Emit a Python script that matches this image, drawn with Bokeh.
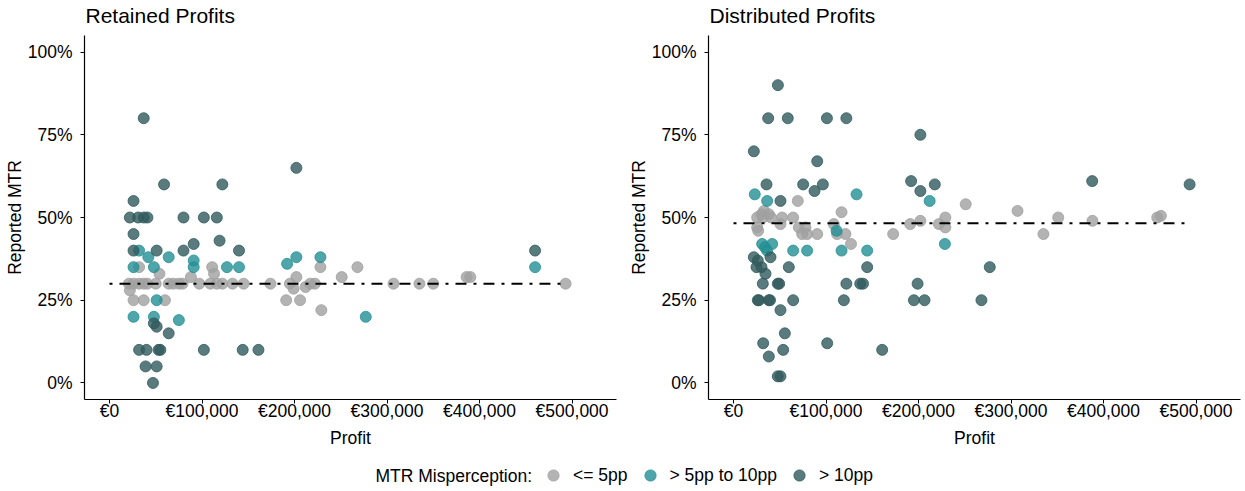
from bokeh.plotting import figure
from bokeh.models import Range1d, FixedTicker, NumeralTickFormatter, Legend, LegendItem, Label
from bokeh.layouts import column, row
from bokeh.embed import file_html
from bokeh.resources import INLINE

FONT = "Liberation Sans"

panel_titles = ["Retained Profits", "Distributed Profits"]
groups = ["<= 5pp", "> 5pp to 10pp", "> 10pp"]
group_colors = ["#a0a0a0", "#239095", "#315a5c"]

# ---------------- Retained Profits (profit in EUR, reported MTR as share) ----------------
ret_low_profit = [32000, 54000, 111000, 113000, 88000,
                  21000, 26000, 32000, 37000, 41000, 50000, 64000, 69000, 75000, 79000, 97000,
                  109000, 116000, 122000, 133000, 145000, 174000,
                  22000, 26000, 37000, 60000,
                  228000, 268000, 251000, 202000, 195000, 199000, 212000, 217000, 222000,
                  307000, 335000, 350000, 386000, 390000, 493000, 191000, 206000, 229000]
ret_low_mtr = [0.35, 0.33, 0.35, 0.33, 0.32,
               0.30, 0.30, 0.30, 0.30, 0.30, 0.30, 0.30, 0.30, 0.30, 0.30, 0.30,
               0.30, 0.30, 0.30, 0.30, 0.30, 0.30,
               0.28, 0.25, 0.25, 0.25,
               0.35, 0.35, 0.32, 0.32, 0.30, 0.285, 0.29, 0.30, 0.30,
               0.30, 0.30, 0.30, 0.32, 0.32, 0.30, 0.25, 0.25, 0.22]

ret_mid_profit = [32000, 42000, 64000, 26000, 48000, 91000, 91000, 127000, 140000, 51000,
                  26000, 48000, 75000, 192000, 202000, 228000, 277000, 460000]
ret_mid_mtr = [0.40, 0.38, 0.38, 0.35, 0.35, 0.37, 0.35, 0.35, 0.35, 0.25,
               0.20, 0.20, 0.19, 0.36, 0.38, 0.38, 0.20, 0.35]

ret_high_profit = [37000, 59000, 26000, 122000, 22000, 31000, 37000, 41000, 80000, 102000, 116000,
                   26000, 91000, 119000, 26000, 51000, 80000, 140000, 48000, 51000, 64000,
                   32000, 40000, 53000, 55000, 102000, 144000, 161000, 39000, 51000, 47000,
                   202000, 460000]
ret_high_mtr = [0.80, 0.60, 0.55, 0.60, 0.50, 0.50, 0.50, 0.50, 0.50, 0.50, 0.50,
                0.45, 0.42, 0.43, 0.40, 0.40, 0.40, 0.40, 0.18, 0.17, 0.15,
                0.10, 0.10, 0.10, 0.10, 0.10, 0.10, 0.10, 0.05, 0.05, 0.00,
                0.65, 0.40]

ret_avg_mtr = 0.30

# ---------------- Distributed Profits ----------------
dis_low_profit = [69500, 25600, 30300, 33000, 38200, 40700, 31700, 25600, 26700, 52600, 64500,
                  50800, 70600, 77800, 74200, 79600, 90500, 108500, 116800, 112000, 121000,
                  127000, 172600, 191000, 202000, 222000, 229000, 229000, 251000, 307000,
                  335000, 351000, 388000, 458000, 462000]
dis_low_mtr = [0.55, 0.50, 0.51, 0.52, 0.51, 0.50, 0.50, 0.47, 0.46, 0.50, 0.50,
               0.48, 0.47, 0.47, 0.45, 0.45, 0.45, 0.48, 0.516, 0.45, 0.45,
               0.42, 0.45, 0.48, 0.49, 0.48, 0.50, 0.47, 0.54, 0.52,
               0.45, 0.50, 0.49, 0.50, 0.505]

dis_mid_profit = [23000, 36400, 133000, 31000, 41800, 36400, 34000, 64500, 79600, 111400,
                  116800, 144500, 212000, 228500]
dis_mid_mtr = [0.57, 0.55, 0.57, 0.42, 0.42, 0.40, 0.41, 0.40, 0.40, 0.46,
               0.40, 0.40, 0.55, 0.42]

dis_high_profit = [48000, 37500, 58700, 101000, 122000, 22000, 90500, 35700, 75300, 87600, 96600,
                   50800, 40000, 22000, 24900, 30300, 26300, 34600, 59800, 144500,
                   31700, 47900, 49400, 122000, 137000, 140000,
                   26300, 27500, 38200, 39500, 64500, 119300,
                   50800, 55500, 32100, 53700, 101300, 38200, 160700, 47900, 50800,
                   202000, 192000, 202000, 217600, 387700, 493000, 277000, 199000, 195000,
                   206500, 268000]
dis_high_mtr = [0.90, 0.80, 0.80, 0.80, 0.80, 0.70, 0.67, 0.60, 0.60, 0.58, 0.60,
                0.55, 0.38, 0.38, 0.35, 0.35, 0.37, 0.33, 0.35, 0.35,
                0.30, 0.30, 0.30, 0.30, 0.30, 0.30,
                0.25, 0.25, 0.25, 0.25, 0.25, 0.25,
                0.22, 0.15, 0.12, 0.10, 0.12, 0.08, 0.10, 0.02, 0.02,
                0.75, 0.61, 0.58, 0.60, 0.61, 0.60, 0.35, 0.30, 0.25,
                0.25, 0.25]

dis_avg_mtr = 0.483

# ---------------- axes ----------------
x_ticks = [0, 100000, 200000, 300000, 400000, 500000]
x_tick_labels = ["€0", "€100,000", "€200,000", "€300,000", "€400,000", "€500,000"]
y_ticks = [0, 0.25, 0.5, 0.75, 1.0]

FS = "17.5px"
FRAME_W = 532
FRAME_H = 364
TOP = 35
BOTTOM = 47
BORDERS = [(84, 8), (84, 5)]


def strip(height):
    s = figure(width=1245, height=height, output_backend="svg", toolbar_location=None,
               x_range=Range1d(0, 1), y_range=Range1d(0, 1),
               x_axis_type=None, y_axis_type=None,
               min_border_left=0, min_border_right=0, min_border_top=0, min_border_bottom=0)
    s.outline_line_color = None
    s.grid.visible = False
    return s


def make_panel(series, avg, border_left, border_right):
    p = figure(width=border_left + FRAME_W + border_right, height=FRAME_H + BOTTOM,
               frame_width=FRAME_W, frame_height=FRAME_H,
               output_backend="svg", toolbar_location=None, title=None,
               x_range=Range1d(-27000, 548000), y_range=Range1d(-0.05, 1.05),
               min_border_left=border_left, min_border_right=border_right,
               min_border_top=0, min_border_bottom=BOTTOM)
    p.outline_line_color = None
    p.grid.visible = False
    p.background_fill_color = "white"
    p.border_fill_color = "white"

    for ax in (p.xaxis[0], p.yaxis[0]):
        ax.axis_line_color = "black"
        ax.axis_line_width = 1.2
        ax.major_tick_line_color = "black"
        ax.major_tick_out = 4
        ax.major_tick_in = 0
        ax.minor_tick_line_color = None
        ax.major_label_text_font = FONT
        ax.major_label_text_font_size = FS
        ax.major_label_text_color = "black"
        ax.axis_label_text_font = FONT
        ax.axis_label_text_font_size = FS
        ax.axis_label_text_font_style = "normal"
        ax.axis_label_text_color = "black"

    p.xaxis.ticker = FixedTicker(ticks=x_ticks)
    p.xaxis.major_label_overrides = {t: lab for t, lab in zip(x_ticks, x_tick_labels)}
    p.xaxis.axis_label = "Profit"
    p.xaxis.major_label_standoff = -3
    p.xaxis.axis_label_standoff = 4

    p.yaxis.ticker = FixedTicker(ticks=y_ticks)
    p.yaxis.formatter = NumeralTickFormatter(format="0%")
    p.yaxis.axis_label = "Reported MTR"
    p.yaxis.major_label_standoff = 8
    p.yaxis.axis_label_standoff = 0

    for (xs, ys), color in zip(series, group_colors):
        p.scatter(x=xs, y=ys, size=11, fill_color=color, line_color=color,
                  fill_alpha=0.8, line_alpha=0.8)

    all_x = [v for xs, _ in series for v in xs]
    p.line(x=[0, max(all_x)], y=[avg, avg], line_color="black", line_width=2,
           line_dash="3 7 11 7")
    return p


p1 = make_panel([(ret_low_profit, ret_low_mtr), (ret_mid_profit, ret_mid_mtr),
                 (ret_high_profit, ret_high_mtr)], ret_avg_mtr, *BORDERS[0])
p2 = make_panel([(dis_low_profit, dis_low_mtr), (dis_mid_profit, dis_mid_mtr),
                 (dis_high_profit, dis_high_mtr)], dis_avg_mtr, *BORDERS[1])

# ---------------- title strip ----------------
ph = strip(TOP)
left_of_frame = [BORDERS[0][0], sum(BORDERS[0]) + FRAME_W + BORDERS[1][0]]
for t, fx in zip(panel_titles, left_of_frame):
    ph.add_layout(Label(x=fx + 1, y=TOP - 15, x_units="screen", y_units="screen",
                        text=t, text_baseline="middle", text_align="left",
                        text_font=FONT, text_font_size="21px", text_color="black"))

# ---------------- legend strip ----------------
LEG_H = 491 - (TOP + FRAME_H + BOTTOM) - 1
pl = strip(LEG_H)

# legend proxies: one marker each, placed outside the visible range of the strip
items = []
for g, c in zip(groups, group_colors):
    r = pl.scatter(x=[-5], y=[-5], size=11, fill_color=c, line_color=c,
                   fill_alpha=0.8, line_alpha=0.8)
    items.append(LegendItem(label=g, renderers=[r]))

legend = Legend(items=items, orientation="horizontal", location=(539, 5),
                glyph_width=28, glyph_height=28, label_standoff=6, spacing=8,
                padding=0, margin=0, border_line_color=None, background_fill_alpha=0,
                label_text_font=FONT, label_text_font_size=FS, label_height=20,
                label_text_color="black")
pl.add_layout(legend)
pl.add_layout(Label(x=375, y=19, x_units="screen", y_units="screen",
                    text="MTR Misperception:", text_baseline="middle",
                    text_font=FONT, text_font_size=FS, text_color="black"))

layout = column(ph, row(p1, p2), pl)
open("out.html", "w").write(file_html(layout, INLINE))
